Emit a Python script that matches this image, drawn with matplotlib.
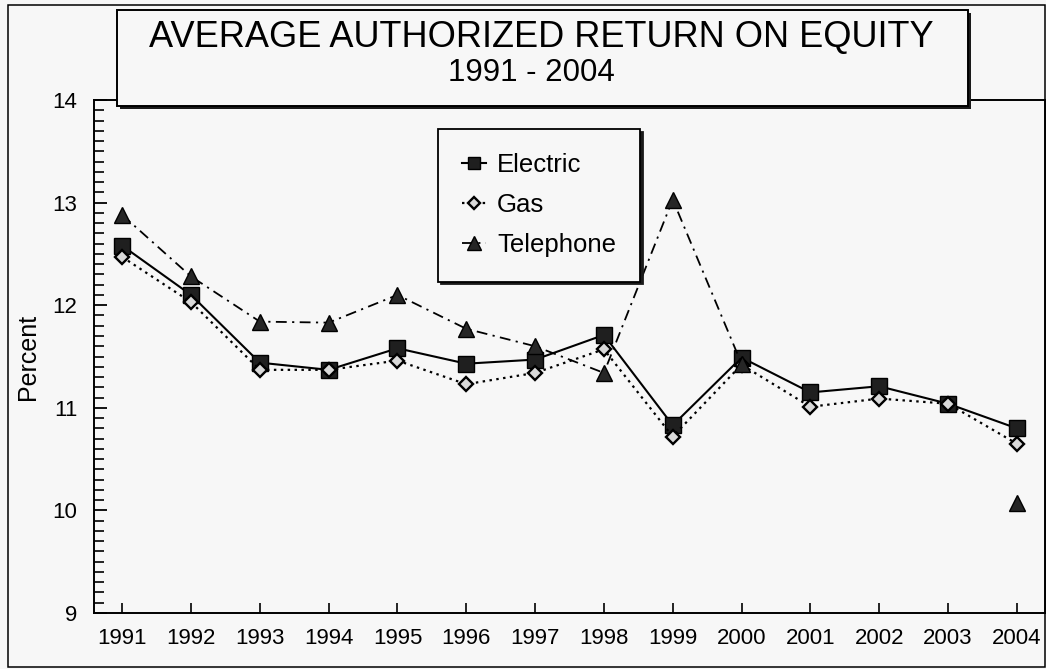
import numpy as np
import matplotlib
matplotlib.use("Agg")
import matplotlib.pyplot as plt
from matplotlib.patches import Rectangle
from matplotlib.ticker import MultipleLocator

# average authorized return on equity, percent
years = list(range(1991, 2005))
electric = [12.58, 12.10, 11.44, 11.37, 11.58, 11.43, 11.47, 11.71, 10.83, 11.49, 11.15, 11.21, 11.04, 10.80]
gas = [12.47, 12.03, 11.37, 11.37, 11.46, 11.23, 11.34, 11.57, 10.72, 11.42, 11.01, 11.09, 11.04, 10.65]
telephone = [12.88, 12.28, 11.84, 11.83, 12.10, 11.77, 11.60, 11.34, 13.03, 11.43, np.nan, np.nan, np.nan, 10.07]

BG = "#f7f7f7"
plt.rcParams["font.family"] = ["Liberation Sans", "DejaVu Sans"]

W, H = 1046, 669
fig = plt.figure(figsize=(W / 100, H / 100), dpi=100, facecolor=BG)
ax = fig.add_axes([94 / W, 1 - 613 / H, 951 / W, 513 / H], facecolor=BG)

ax.plot(years, electric, color="black", lw=1.5, ls="-",
        marker="s", ms=11.5, mfc="0.12", mec="black", mew=1, label="Electric")
ax.plot(years, gas, color="black", lw=1.6, ls=(0, (1.1, 2.0)),
        marker="D", ms=7.5, mfc="0.85", mec="black", mew=1.7, label="Gas")
ax.plot(years, telephone, color="black", lw=1.3, ls=(0, (6, 3, 1.2, 3)),
        marker="^", ms=12, mfc="0.15", mec="black", mew=1, label="Telephone")

ax.set_xlim(1990.59, 2004.41)
ax.set_ylim(9, 14)
ax.set_xticks(years)
ax.yaxis.set_major_locator(MultipleLocator(1))
ax.yaxis.set_minor_locator(MultipleLocator(0.1))
ax.tick_params(axis="x", direction="in", length=7, width=1.2, pad=11, labelsize=16)
ax.tick_params(axis="y", which="major", direction="in", length=9, width=1.3, pad=12, labelsize=16)
ax.tick_params(axis="y", which="minor", direction="in", length=7, width=1.2)
for s in ax.spines.values():
    s.set_linewidth(1.4)

ax.set_ylabel("Percent", fontsize=18)
ax.yaxis.set_label_coords(-0.057, 0.5)

leg = ax.legend(loc="upper left", bbox_to_anchor=(0.3617, 0.9435), borderaxespad=0,
                fontsize=18.5, handlelength=0.9, handletextpad=0.45, borderpad=0.95,
                labelspacing=0.62, markerscale=0.8, fancybox=False, framealpha=1,
                facecolor=BG, edgecolor="black",
                shadow={"facecolor": "0.1", "edgecolor": "0.1", "alpha": 1})
leg.get_frame().set_linewidth(1.3)

# title panel with drop shadow
bx0, by0, bx1, by1 = 117, 10, 968, 106
fig.add_artist(Rectangle(((bx0 + 3) / W, 1 - (by1 + 3) / H), (bx1 - bx0) / W, (by1 - by0) / H,
                         transform=fig.transFigure, facecolor="0.1", edgecolor="none", zorder=5))
fig.add_artist(Rectangle((bx0 / W, 1 - by1 / H), (bx1 - bx0) / W, (by1 - by0) / H,
                         transform=fig.transFigure, facecolor=BG, edgecolor="black", lw=1.4, zorder=6))
fig.text(541 / W, 1 - 37 / H, "AVERAGE AUTHORIZED RETURN ON EQUITY", ha="center", va="center",
         fontsize=26, zorder=7)
fig.text(531 / W, 1 - 73 / H, "1991 - 2004", ha="center", va="center", fontsize=22.5, zorder=7)

# outer border
fig.add_artist(Rectangle((8 / W, 2 / H), 1037 / W, 662 / H, transform=fig.transFigure,
                         facecolor="none", edgecolor="black", lw=1.1, zorder=0))

fig.savefig("out.png", dpi=100, facecolor=BG)
